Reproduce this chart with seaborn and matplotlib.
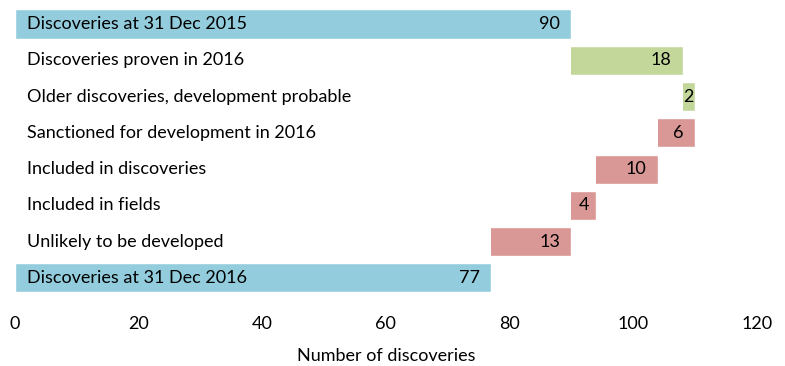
import matplotlib
matplotlib.use('Agg')
import matplotlib.pyplot as plt
import seaborn as sns
import numpy as np
import pandas as pd

categories = ["Discoveries at 31 Dec 2015", "Discoveries proven in 2016",
              "Older discoveries, development probable", "Sanctioned for development in 2016",
              "Included in discoveries", "Included in fields",
              "Unlikely to be developed", "Discoveries at 31 Dec 2016"]
values = [90, 18, 2, -6, -10, -4, -13, 77]
kinds = ["total", "up", "up", "down", "down", "down", "down", "total"]

kind_colors = {"total": "#93CDDD", "up": "#C4D79B", "down": "#D99795"}

# waterfall: running position of each step
starts, ends = [], []
run = 0
for v, k in zip(values, kinds):
    if k == "total":
        starts.append(0)
        ends.append(v)
        run = v
    else:
        starts.append(min(run, run + v))
        ends.append(max(run, run + v))
        run += v

df = pd.DataFrame({"Category": categories, "Start": starts, "End": ends,
                   "Value": [abs(v) for v in values], "Kind": kinds})

sns.set_style("white")
plt.rcParams['font.family'] = ['Lato', 'DejaVu Sans']
plt.rcParams['text.color'] = 'black'
plt.rcParams['axes.labelcolor'] = 'black'
plt.rcParams['xtick.color'] = 'black'

fig = plt.figure(figsize=(7.85, 3.66), dpi=100)
ax = fig.add_axes([0.019, 0.191, 0.945, 0.793])

sns.barplot(df, x="End", y="Category", hue="Kind", palette=kind_colors, saturation=1,
            width=0.8, dodge=False, legend=False, linewidth=1, edgecolor="white", ax=ax)
sns.barplot(df, x="Start", y="Category", color="white", saturation=1, width=0.84,
            linewidth=0, ax=ax)

fs = 13
ax.set_xlim(0, 120)
ax.set_xticks(np.arange(0, 121, 20))
ax.set_yticks([])
ax.set_ylabel("")
ax.set_xlabel("Number of discoveries", fontsize=fs, labelpad=12)
ax.tick_params(axis="x", length=0, labelsize=fs, pad=14)
sns.despine(ax=ax, left=True, bottom=True)

px_per_unit = ax.bbox.width / 120
for i, row in df.iterrows():
    ax.text(1.9, i, row["Category"], va="center", ha="left", fontsize=fs)
    width_px = (row["End"] - row["Start"]) * px_per_unit
    if width_px > 32:
        ax.annotate(str(row["Value"]), (row["End"], i), xytext=(-8, 0),
                    textcoords="offset points", va="center", ha="right", fontsize=fs)
    else:
        ax.text((row["Start"] + row["End"]) / 2, i, str(row["Value"]),
                va="center", ha="center", fontsize=fs)

fig.savefig("out.png", dpi=100)
